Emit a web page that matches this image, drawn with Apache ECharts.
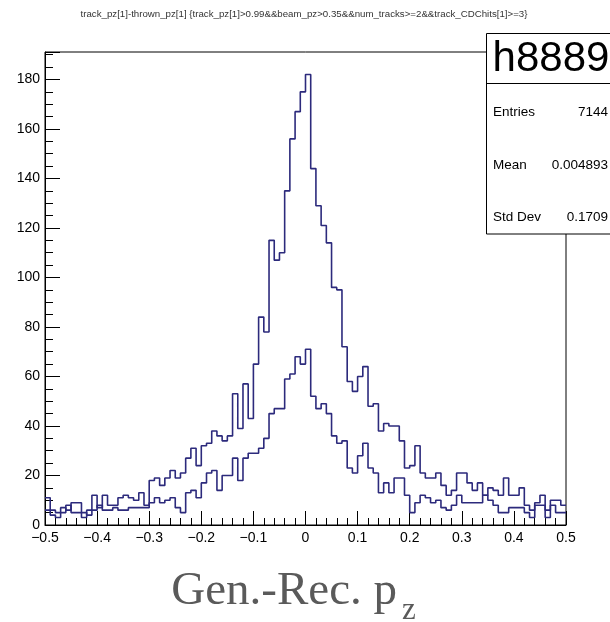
<!DOCTYPE html>
<html>
<head>
<meta charset="utf-8">
<script src="https://cdn.jsdelivr.net/npm/echarts@6/dist/echarts.min.js"></script>
<style>
html,body{margin:0;padding:0;background:#fff;}
#chart{width:610px;height:622px;}
</style>
</head>
<body>
<div id="chart"></div>
<script>
// Histogram settings (bin low edge, bin width, number of bins)
var xLow = -0.5;
var binWidth = 0.01;
var nBins = 100;

// Upper (wider-cut) histogram contents, one per bin from -0.5 to 0.5
var seriesUpper = [
  11, 6, 5, 7, 6, 9, 9, 3, 6, 12,
  7, 12, 8, 8, 11, 12, 11, 10, 13, 8,
  18, 19, 16, 19, 22, 19, 21, 27, 31, 24,
  32, 33, 38, 36, 34, 36, 53, 39, 57, 43,
  65, 84, 78, 115, 107, 110, 135, 156, 167, 175,
  182, 144, 129, 121, 114, 96, 95, 72, 58, 54,
  60, 64, 48, 49, 38, 41, 40, 40, 34, 23,
  24, 32, 21, 19, 19, 21, 16, 12, 14, 21,
  21, 17, 14, 17, 12, 15, 14, 12, 19, 12,
  12, 15, 8, 6, 9, 12, 6, 10, 10, 8
];

// Lower histogram contents
var seriesLower = [
  6, 4, 3, 5, 8, 5, 5, 5, 4, 6,
  8, 6, 6, 7, 6, 6, 7, 7, 7, 7,
  9, 11, 9, 10, 11, 7, 5, 13, 14, 11,
  17, 21, 22, 14, 20, 20, 27, 18, 27, 29,
  29, 31, 35, 45, 47, 47, 59, 61, 68, 65,
  71, 52, 47, 49, 45, 36, 33, 34, 23, 21,
  28, 33, 23, 21, 13, 17, 13, 19, 19, 12,
  5, 9, 12, 11, 9, 10, 7, 6, 8, 12,
  9, 9, 9, 9, 12, 10, 8, 5, 5, 7,
  7, 7, 5, 3, 8, 8, 3, 8, 5, 5
];

// Stats box texts
var statsName = 'h8889';
var statsLabels = ['Entries', 'Mean', 'Std Dev'];
var statsValues = ['7144', '0.004893', '0.1709'];

var titleText = 'track_pz[1]-thrown_pz[1] {track_pz[1]>0.99&&beam_pz>0.35&&num_tracks>=2&&track_CDChits[1]>=3}';
var axisTitleMain = 'Gen.-Rec. p';
var axisTitleSub = 'z';

var yMax = 191.1;

function stepData(vals) {
  var d = [];
  for (var i = 0; i < vals.length; i++) {
    d.push([xLow + i * binWidth, vals[i]]);
  }
  d.push([xLow + vals.length * binWidth, vals[vals.length - 1]]);
  return d;
}

var lineColor = '#2c2a7c';
var chart = echarts.init(document.getElementById('chart'), null, {renderer: 'canvas'});

var statsGraphics = [
  {type: 'rect', shape: {x: 486.5, y: 33.5, width: 140, height: 200.5},
   style: {fill: '#fff', stroke: '#000', lineWidth: 1}, z: 100},
  {type: 'line', shape: {x1: 486.5, y1: 83.5, x2: 620, y2: 83.5},
   style: {stroke: '#000', lineWidth: 1}, z: 101},
  {type: 'text', x: 551, y: 59, z: 102,
   style: {text: statsName, fill: '#000', font: '42px "Liberation Sans", Arial, sans-serif',
     align: 'center', verticalAlign: 'middle'}}
];
var rowY = [112, 165, 217];
for (var r = 0; r < statsLabels.length; r++) {
  statsGraphics.push({type: 'text', x: 493, y: rowY[r], z: 102,
    style: {text: statsLabels[r], fill: '#000', font: '13.5px "Liberation Sans", Arial, sans-serif',
      align: 'left', verticalAlign: 'middle'}});
  statsGraphics.push({type: 'text', x: 608, y: rowY[r], z: 102,
    style: {text: statsValues[r], fill: '#000', font: '13.5px "Liberation Sans", Arial, sans-serif',
      align: 'right', verticalAlign: 'middle'}});
}

var option = {
  animation: false,
  backgroundColor: '#fff',
  grid: {left: 45, right: 44, top: 52, bottom: 97, show: true, borderColor: '#000', borderWidth: 1,
         backgroundColor: 'transparent'},
  xAxis: {
    type: 'value', min: -0.5, max: 0.5, interval: 0.1,
    axisLine: {show: true, onZero: false, lineStyle: {color: '#000', width: 1}},
    axisTick: {show: true, inside: true, length: 14, lineStyle: {color: '#000'}},
    minorTick: {show: true, splitNumber: 5, length: 7, lineStyle: {color: '#000'}},
    splitLine: {show: false},
    axisLabel: {color: '#000', fontSize: 14, margin: 6, fontFamily: '"Liberation Sans", Arial, sans-serif',
      formatter: function (v) {
        var r = Math.round(v * 10) / 10;
        if (r === 0) return '0';
        return r.toFixed(1).replace('-', '\u2212');
      }}
  },
  yAxis: {
    type: 'value', min: 0, max: yMax, interval: 20,
    axisLine: {show: true, onZero: false, lineStyle: {color: '#000', width: 1}},
    axisTick: {show: true, inside: true, length: 15, lineStyle: {color: '#000'}},
    minorTick: {show: true, splitNumber: 4, length: 8, lineStyle: {color: '#000'}},
    splitLine: {show: false},
    axisLabel: {color: '#000', fontSize: 14, margin: 5, showMaxLabel: false,
      fontFamily: '"Liberation Sans", Arial, sans-serif',
      formatter: function (v) { return (Math.abs(v % 20) < 1e-6) ? String(Math.round(v)) : ''; }}
  },
  series: [
    {type: 'line', step: 'end', data: stepData(seriesUpper), showSymbol: false, symbol: 'none',
     lineStyle: {color: lineColor, width: 1.6}, z: 5},
    {type: 'line', step: 'end', data: stepData(seriesLower), showSymbol: false, symbol: 'none',
     lineStyle: {color: lineColor, width: 1.6}, z: 5}
  ],
  graphic: [
    {type: 'text', x: 304, y: 14, style: {text: titleText, fill: '#333',
      font: '9.7px "Liberation Sans", Arial, sans-serif', align: 'center', verticalAlign: 'middle'}},
    {type: 'text', x: 397, y: 592, style: {text: axisTitleMain, fill: '#5a5a5a',
      font: '47px "Liberation Serif", "Times New Roman", serif',
      align: 'right', verticalAlign: 'middle'}},
    {type: 'text', x: 402, y: 611, style: {text: axisTitleSub, fill: '#5a5a5a',
      font: '31px "Liberation Serif", "Times New Roman", serif',
      align: 'left', verticalAlign: 'middle'}}
  ].concat(statsGraphics)
};
chart.setOption(option);
</script>
</body>
</html>
